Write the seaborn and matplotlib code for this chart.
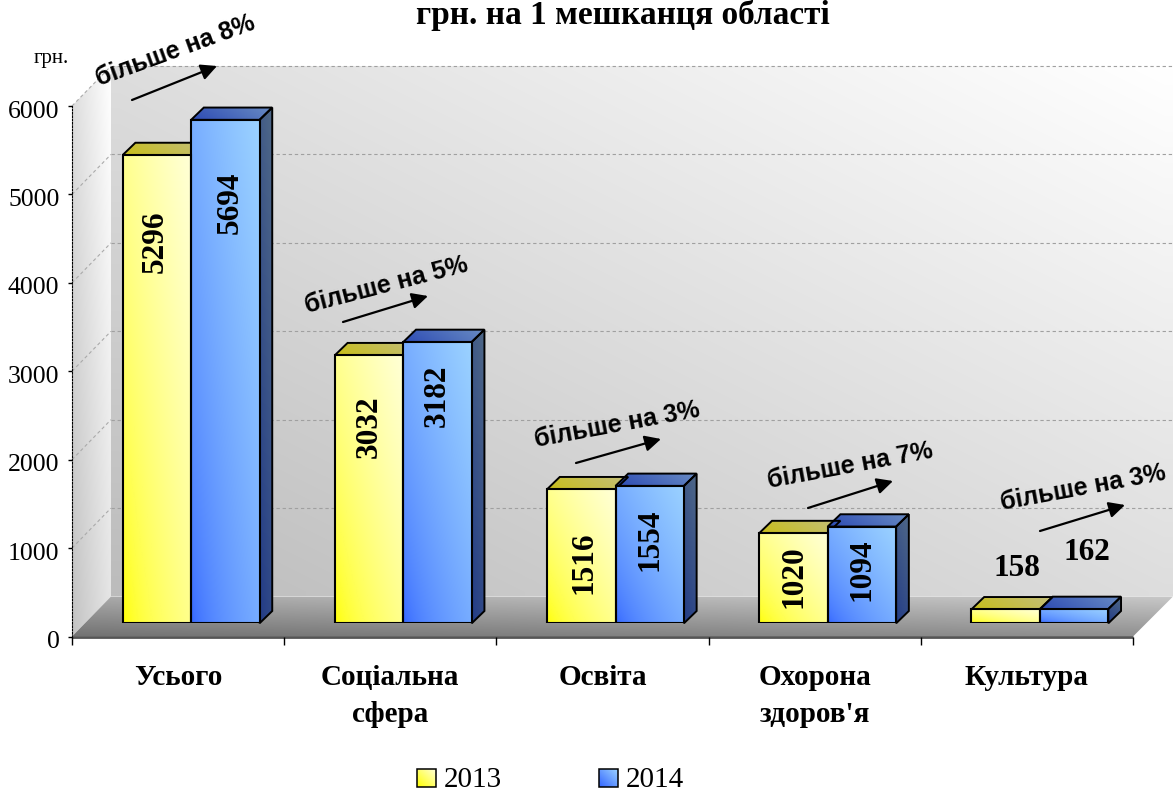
import numpy as np
import pandas as pd
import seaborn as sns
import matplotlib.pyplot as plt
from matplotlib.patches import Polygon
from matplotlib.transforms import ScaledTranslation

# Дані
categories = ['Усього', 'Соціальна\nсфера', 'Освіта', 'Охорона\nздоров\'я', 'Культура']
years = ['2013', '2014']
values_2013 = [5296, 3032, 1516, 1020, 158]
values_2014 = [5694, 3182, 1554, 1094, 162]
y_ticks = [0, 1000, 2000, 3000, 4000, 5000, 6000]
growth_labels = ['більше на 8%', 'більше на 5%', 'більше на 3%', 'більше на 7%', 'більше на 3%']

# Розміщення підписів (пікселі)
growth_text_pos = [(175, 51, 20), (386, 285, 14.5), (617, 425, 10.5), (850, 466, 10.5), (1083, 488, 10.5)]
growth_arrows = [((132, 100), (217, 66)), ((343, 322), (428, 296)), ((576, 463), (661, 439)),
                 ((808, 508), (893, 481)), ((1040, 531), (1125, 505))]
label_pos_2013 = [(155.5, 242), (369.5, 427), (584.5, 563), (794.5, 577), (1017, 568)]
label_pos_2014 = [(230, 203), (437.5, 396), (650.5, 540), (862.5, 570), (1087, 553)]

W, H = 1173, 793
LEFT, RIGHT, TOP, BOTTOM = 72, 1133, 106, 636.5
DEPTH_X, DEPTH_Y = 39, 40
BAR_DX, BAR_DY = 13, 13.2
SIDE_X, SIDE_Y = 12.7, 12.3
SERIF = 'Liberation Serif'
SANS = 'Liberation Sans'

sns.set_style('white')
plt.rcParams.update({'text.color': 'black', 'xtick.color': 'black', 'ytick.color': 'black'})


def gradient(c0, c1, wx=0.5, wy=0.5, gamma=1.0, n=64):
    # діагональний градієнт: c0 внизу зліва, c1 вгорі справа
    xx, yy = np.meshgrid(np.linspace(0, 1, n), np.linspace(1, 0, n))
    t = ((wx * xx + wy * yy) ** gamma)[..., None]
    return (np.array(c0) * (1 - t) + np.array(c1) * t) / 255


def fill_poly(axis, pts, c0, c1, wx=0.5, wy=0.5, zorder=1):
    pts = np.array(pts, dtype=float)
    x0, x1, y0, y1 = pts[:, 0].min(), pts[:, 0].max(), pts[:, 1].min(), pts[:, 1].max()
    im = axis.imshow(gradient(c0, c1, wx, wy), extent=(x0, x1, y1, y0), aspect='auto',
                     interpolation='bilinear', zorder=zorder)
    poly = Polygon(pts, closed=True, facecolor='none', edgecolor='none', transform=axis.transData)
    axis.add_patch(poly)
    im.set_clip_path(poly)
    return poly


fig = plt.figure(figsize=(W / 100, H / 100), dpi=100)


def make_axes(x0, x1, top, bottom):
    return fig.add_axes([x0 / W, 1 - bottom / H, (x1 - x0) / W, (bottom - top) / H])


# Фон у пікселях: стіни та підлога
bg = fig.add_axes([0, 0, 1, 1], zorder=0)
bg.set_axis_off()

fill_poly(bg, [(LEFT + DEPTH_X, TOP - DEPTH_Y), (W, TOP - DEPTH_Y), (W, BOTTOM - DEPTH_Y),
               (LEFT + DEPTH_X, BOTTOM - DEPTH_Y)], (188, 188, 188), (255, 255, 255), 0.5, 0.5)
fill_poly(bg, [(LEFT, TOP), (LEFT + DEPTH_X, TOP - DEPTH_Y), (LEFT + DEPTH_X, BOTTOM - DEPTH_Y),
               (LEFT, BOTTOM)], (195, 195, 195), (255, 255, 255), 0.55, 0.45)
fill_poly(bg, [(LEFT, BOTTOM), (LEFT + DEPTH_X, BOTTOM - DEPTH_Y), (W, BOTTOM - DEPTH_Y),
               (RIGHT, BOTTOM)], (115, 115, 115), (200, 200, 200), 0.35, 0.65)
bg.plot([LEFT, RIGHT], [BOTTOM, BOTTOM], color='#555555', lw=2, zorder=3, solid_capstyle='butt')

# Основна вісь зі шкалою
ax = make_axes(LEFT, RIGHT, TOP, BOTTOM)
ax.set_zorder(1)
ax.patch.set_alpha(0)
ax.set_xlim(-0.5, 4.5)
ax.set_ylim(0, 6000)
ax.set_yticks(y_ticks)
ax.set_yticklabels([str(v) for v in y_ticks], fontsize=18.5, family=SERIF)
ax.set_xticks(range(5))
ax.set_xticklabels(categories, fontsize=21, family=SERIF, fontweight='bold', linespacing=1.5)
ax.set_xticks(np.arange(-0.5, 5), minor=True)
ax.tick_params(axis='x', which='major', length=0, pad=19.5)
ax.tick_params(axis='x', which='minor', length=6, width=1, color='black', direction='out', bottom=True)
ax.tick_params(axis='y', length=3, width=1, color='black', direction='out', left=True, pad=6)
label_shift = ScaledTranslation(0, -3 / 100, fig.dpi_scale_trans)
for lab in ax.get_yticklabels():
    lab.set_transform(lab.get_transform() + label_shift)
for name in ['top', 'right', 'bottom']:
    ax.spines[name].set_visible(False)
ax.spines['left'].set_linestyle((0, (1.5, 1.5)))
ax.spines['left'].set_color('black')

# Сітка: задня стіна і діагоналі на лівій стіні
for v in y_ticks[1:]:
    y = H - ax.transData.transform((0, v))[1]
    bg.plot([LEFT + DEPTH_X, W], [y - DEPTH_Y, y - DEPTH_Y], color='#a0a0a0', lw=0.8, ls=(0, (3, 2.5)), zorder=2)
    bg.plot([LEFT, LEFT + DEPTH_X], [y, y - DEPTH_Y], color='#aaaaaa', lw=0.8, ls=(0, (3, 2.5)), zorder=2)

# Стовпчики
df = pd.DataFrame({
    'category': categories * 2,
    'year': [years[0]] * 5 + [years[1]] * 5,
    'value': values_2013 + values_2014,
})
ax_bars = make_axes(LEFT + BAR_DX, RIGHT + BAR_DX, TOP - BAR_DY, BOTTOM - BAR_DY)
ax_bars.set_zorder(2)
ax_bars.patch.set_alpha(0)
sns.barplot(data=df, x='category', y='value', hue='year', palette=['#ffff96', '#78aaff'],
            width=0.645, gap=0, edgecolor='black', linewidth=1.5, legend=False, saturation=1, ax=ax_bars)
ax_bars.set_xlim(-0.5, 4.5)
ax_bars.set_ylim(0, 6000)
ax_bars.set_axis_off()

front_colors = [((255, 255, 0), (255, 255, 215)), ((50, 100, 255), (155, 210, 255))]
top_colors = [((200, 190, 25), (195, 190, 125)), ((45, 75, 180), (105, 140, 195))]
side_color = ((35, 60, 135), (80, 105, 135))

for i, container in enumerate(ax_bars.containers):
    for bar in container:
        x0, h, bw = bar.get_x(), bar.get_height(), bar.get_width()
        # передня грань
        ax_bars.imshow(gradient(*front_colors[i], 0.5, 0.5, gamma=0.6),
                       extent=(x0, x0 + bw, 0, h), aspect='auto',
                       interpolation='bilinear', zorder=bar.get_zorder() + 0.1)
        bar.set_zorder(bar.get_zorder() + 0.2)
        bar.set_facecolor('none')
        # верх і бік у пікселях
        (px0, py0), (px1, py1) = ax_bars.transData.transform([(x0, 0), (x0 + bw, h)])
        py0, py1 = H - py0, H - py1
        top_face = [(px0, py1), (px0 + SIDE_X, py1 - SIDE_Y), (px1 + SIDE_X, py1 - SIDE_Y), (px1, py1)]
        fill_poly(bg, top_face, *top_colors[i], 0.8, 0.2, zorder=4)
        bg.add_patch(Polygon(top_face, closed=True, fill=False, edgecolor='black', lw=1.4, zorder=5))
        if i == 1:
            side_face = [(px1, py1), (px1 + SIDE_X, py1 - SIDE_Y), (px1 + SIDE_X, py0 - SIDE_Y), (px1, py0)]
            fill_poly(bg, side_face, *side_color, 0.3, 0.7, zorder=4)
            bg.add_patch(Polygon(side_face, closed=True, fill=False, edgecolor='black', lw=1.4, zorder=5))
ax_bars.set_xlim(-0.5, 4.5)
ax_bars.set_ylim(0, 6000)

bg.set_xlim(0, W)
bg.set_ylim(H, 0)

# Верхній шар для підписів
top = fig.add_axes([0, 0, 1, 1], zorder=3)
top.set_xlim(0, W)
top.set_ylim(H, 0)
top.set_axis_off()

for vals, pos in [(values_2013, label_pos_2013), (values_2014, label_pos_2014)]:
    for i, (v, (x, y)) in enumerate(zip(vals, pos)):
        top.text(x, y, str(v), ha='center', va='center', fontsize=22.5, fontweight='bold',
                 family=SERIF, rotation=0 if i == 4 else 90)

for label, (x, y, rot), (a, b) in zip(growth_labels, growth_text_pos, growth_arrows):
    top.text(x, y, label, ha='center', va='center', rotation=rot, rotation_mode='anchor',
             fontsize=18, fontweight='bold', family=SANS)
    top.annotate('', xy=b, xytext=a, arrowprops=dict(arrowstyle='-|>', color='black', lw=1.6,
                                                     mutation_scale=24, shrinkA=0, shrinkB=0))

top.text(623, 24, 'грн. на 1 мешканця області', ha='center', va='baseline', fontsize=24,
         fontweight='bold', family=SERIF)
top.text(51, 58, 'грн.', ha='center', va='center', fontsize=15, family=SERIF)

# Легенда
for x0, (c0, c1), name in zip([417, 599], front_colors, years):
    swatch = [(x0, 769), (x0 + 19, 769), (x0 + 19, 787), (x0, 787)]
    fill_poly(top, swatch, c0, c1, zorder=4)
    top.add_patch(Polygon(swatch, closed=True, fill=False, edgecolor='black', lw=1.1, zorder=5))
    top.text(x0 + 27, 780, name, ha='left', va='center', fontsize=21, family=SERIF)
top.set_xlim(0, W)
top.set_ylim(H, 0)

fig.savefig('out.png', dpi=100)
